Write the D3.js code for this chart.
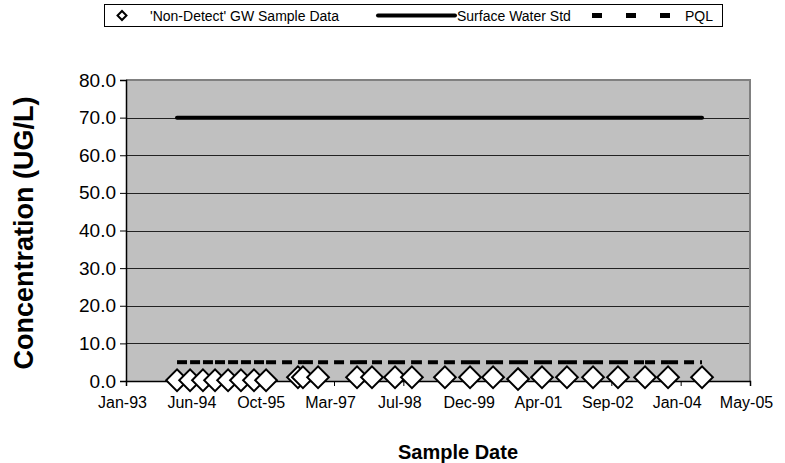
<!DOCTYPE html>
<html>
<head>
<meta charset="utf-8">
<script src="https://cdn.jsdelivr.net/npm/d3@7"></script>
<style>
  html, body { margin: 0; padding: 0; background: #fff; }
  svg { display: block; font-family: "Liberation Sans", Arial, sans-serif; }
</style>
</head>
<body>
<svg id="chart" width="785" height="463"></svg>
<script>
// ---- data ----
const sampleDates = [
  "1994-02-03","1994-05-08","1994-08-09","1994-11-04","1995-02-06","1995-05-10","1995-08-12","1995-11-07",
  "1996-06-24","1996-07-30","1996-11-16","1997-08-24","1997-12-10","1998-05-25","1998-09-24",
  "1999-05-20","1999-11-17","2000-05-01","2000-10-28","2001-04-19","2001-10-16","2002-04-22",
  "2002-10-19","2003-05-02","2003-10-15","2004-06-16"
];
const gwValues = [
  0.2,0.2,0.2,0.2,0.2,0.2,0.2,0.2,
  1.0,1.0,1.0,1.0,1.0,1.0,1.0,
  1.0,1.0,1.0,0.5,1.0,1.0,1.0,
  1.0,1.0,1.0,1.0
];
const surfaceWaterStd = sampleDates.map(() => 70);
const pqlValues = sampleDates.map(() => 5);
const xTickSerials = [34000,34500,35000,35500,36000,36500,37000,37500,38000,38500];
const xTickLabels = ["Jan-93","Jun-94","Oct-95","Mar-97","Jul-98","Dec-99","Apr-01","Sep-02","Jan-04","May-05"];
const yTicks = [0,10,20,30,40,50,60,70,80];
const seriesNames = ["'Non-Detect' GW Sample Data","Surface Water Std","PQL"];

// ---- helpers ----
const excelToDate = s => new Date(Date.UTC(1899,11,30) + s*86400000);
const parse = d3.utcParse("%Y-%m-%d");
const dates = sampleDates.map(parse);

const svg = d3.select("#chart");
const m = {left:126, right:750, top:80, bottom:381};

const x = d3.scaleUtc()
  .domain([excelToDate(xTickSerials[0]), excelToDate(xTickSerials[xTickSerials.length-1])])
  .range([m.left, m.right]);
const y = d3.scaleLinear().domain([0,80]).range([m.bottom, m.top]);

// plot background
svg.append("rect")
  .attr("x", m.left).attr("y", m.top)
  .attr("width", m.right-m.left).attr("height", m.bottom-m.top)
  .attr("fill", "#c0c0c0");

// gridlines
svg.append("g").selectAll("line").data(yTicks.filter(t => t>0 && t<80)).join("line")
  .attr("x1", m.left).attr("x2", m.right)
  .attr("y1", d => Math.round(y(d))+0.5).attr("y2", d => Math.round(y(d))+0.5)
  .attr("stroke", "#222").attr("stroke-width", 1);

// grey border top/right
svg.append("path")
  .attr("d", `M${m.left},${m.top} H${m.right} V${m.bottom}`)
  .attr("fill","none").attr("stroke","#808080").attr("stroke-width",2);

// y axis
const yAxis = d3.axisLeft(y).tickValues(yTicks).tickSize(6).tickPadding(4)
  .tickFormat(d3.format(".1f"));
const gy = svg.append("g").attr("transform", `translate(${m.left},0)`).call(yAxis);
gy.select(".domain").attr("stroke","#000").attr("stroke-width",1.5);
gy.selectAll(".tick line").attr("stroke","#000");
gy.selectAll(".tick text").attr("font-size", 19).attr("fill","#000")
  .attr("font-family","Liberation Sans, Arial, sans-serif");

// x axis
const xAxis = d3.axisBottom(x)
  .tickValues(xTickSerials.map(excelToDate))
  .tickSize(5).tickPadding(11)
  .tickFormat((d,i) => xTickLabels[i]);
const gx = svg.append("g").attr("transform", `translate(0,${m.bottom})`).call(xAxis);
gx.select(".domain").attr("stroke","#000").attr("stroke-width",1.5);
gx.selectAll(".tick line").attr("stroke","#000");
gx.selectAll(".tick text").attr("font-size", 16).attr("fill","#000")
  .attr("dx", -4)
  .attr("font-family","Liberation Sans, Arial, sans-serif");

// Surface water std line
const line = d3.line().x((d,i) => x(dates[i])).y(d => y(d));
svg.append("path").datum(surfaceWaterStd)
  .attr("d", line).attr("fill","none").attr("stroke","#000")
  .attr("stroke-width",4).attr("stroke-linejoin","round").attr("stroke-linecap","round");

// PQL dashed line (dash restarts at each point)
const pqlSegs = d3.pairs(pqlValues.map((v,i) => [x(dates[i]), y(v)]));
svg.append("g").selectAll("path").data(pqlSegs).join("path")
  .attr("d", d => `M${d[0][0]},${d[0][1]}L${d[1][0]},${d[1][1]}`)
  .attr("fill","none").attr("stroke","#000").attr("stroke-width",4)
  .attr("stroke-dasharray","10,6");

// GW diamonds
svg.append("g").selectAll("path").data(gwValues).join("path")
  .attr("d", d3.symbol().type(d3.symbolSquare).size(235))
  .attr("transform", (d,i) => `translate(${x(dates[i])},${y(d)}) rotate(45)`)
  .attr("fill","#fff").attr("stroke","#000").attr("stroke-width",2);

// axis titles
svg.append("text")
  .attr("x", (m.left+m.right)/2 + 20).attr("y", 459)
  .attr("text-anchor","middle").attr("font-size",20).attr("font-weight","bold")
  .text("Sample Date");
svg.append("text")
  .attr("transform", `translate(33,233) rotate(-90)`)
  .attr("text-anchor","middle").attr("font-size",27).attr("font-weight","bold")
  .text("Concentration (UG/L)");

// legend
const lg = svg.append("g");
lg.append("rect").attr("x",104.5).attr("y",4.5).attr("width",618).attr("height",22)
  .attr("fill","#fff").attr("stroke","#000").attr("stroke-width",1);
const ly = 15.5;
lg.append("path")
  .attr("d", d3.symbol().type(d3.symbolSquare).size(40))
  .attr("transform", `translate(122,${ly}) rotate(45)`)
  .attr("fill","#fff").attr("stroke","#000").attr("stroke-width",2);
lg.append("text").attr("x",150).attr("y",ly+5).attr("font-size",14).text(seriesNames[0]);
lg.append("line").attr("x1",378).attr("x2",455).attr("y1",ly).attr("y2",ly)
  .attr("stroke","#000").attr("stroke-width",4).attr("stroke-linecap","round");
lg.append("text").attr("x",457).attr("y",ly+5).attr("font-size",14).text(seriesNames[1]);
lg.append("line").attr("x1",592).attr("x2",670).attr("y1",ly).attr("y2",ly)
  .attr("stroke","#000").attr("stroke-width",5).attr("stroke-dasharray","10,24");
lg.append("text").attr("x",685).attr("y",ly+5).attr("font-size",14).text(seriesNames[2]);
</script>
</body>
</html>
